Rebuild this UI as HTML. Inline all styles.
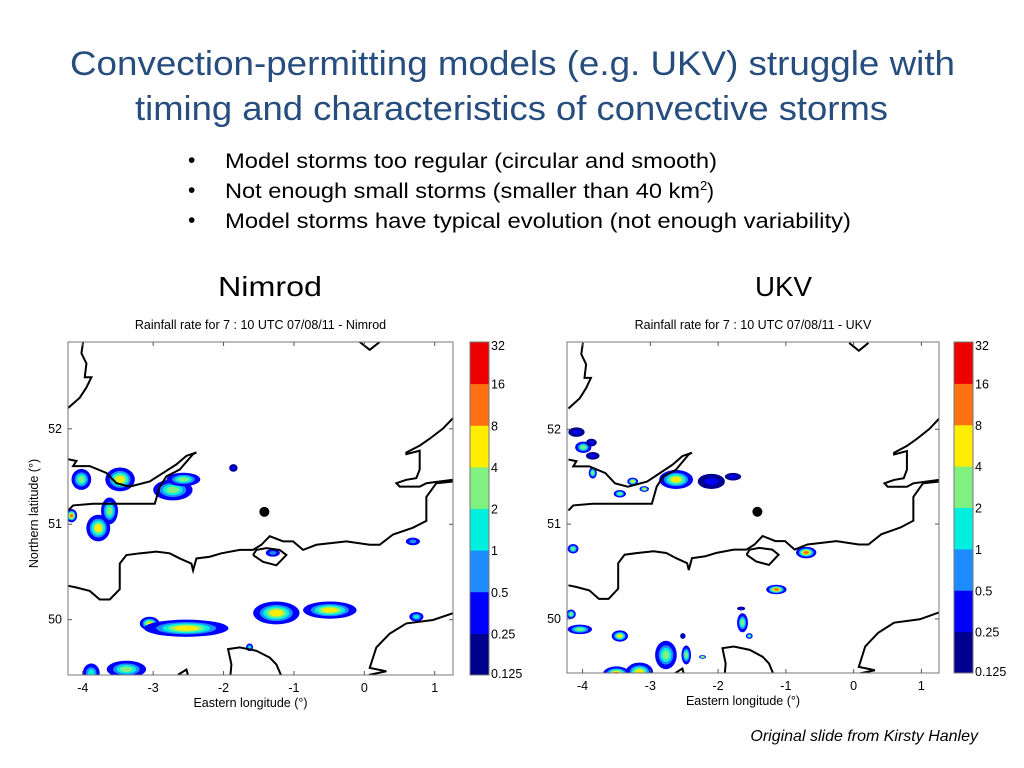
<!DOCTYPE html>
<html><head><meta charset="utf-8"><style>
html,body{margin:0;padding:0;background:#fff;width:1024px;height:768px;overflow:hidden}
svg{display:block}
text{font-family:"Liberation Sans",sans-serif}
</style></head><body>
<svg id="s" width="1024" height="768" viewBox="0 0 1024 768">
<g fill="#264d7e" font-size="34">
<text x="70" y="75" textLength="885" lengthAdjust="spacingAndGlyphs">Convection-permitting models (e.g. UKV) struggle with</text>
<text x="135" y="120" textLength="753" lengthAdjust="spacingAndGlyphs">timing and characteristics of convective storms</text>
</g>
<g fill="#000" font-size="21">
<text x="188" y="167">•</text><text x="225" y="168" textLength="492" lengthAdjust="spacingAndGlyphs">Model storms too regular (circular and smooth)</text>
<text x="188" y="197">•</text><text x="225" y="198" textLength="475" lengthAdjust="spacingAndGlyphs">Not enough small storms (smaller than 40 km</text><text x="700" y="190" font-size="13">2</text><text x="707" y="198">)</text>
<text x="188" y="227">•</text><text x="225" y="228" textLength="626" lengthAdjust="spacingAndGlyphs">Model storms have typical evolution (not enough variability)</text>
</g>
<text x="218" y="296" font-size="28" textLength="104" lengthAdjust="spacingAndGlyphs">Nimrod</text>
<text x="755" y="296" font-size="28" textLength="57" lengthAdjust="spacingAndGlyphs">UKV</text>
<text x="978" y="741" font-size="16" font-style="italic" text-anchor="end">Original slide from Kirsty Hanley</text>
<g id="p1"></g><g id="p2"></g>
</svg>
<script>
const levelColors=["#00008f","#0000ff","#1e8cff","#00f0e0","#80f080","#ffee00","#ff7010","#ee0000"];
const cbLabels=["0.125","0.25","0.5","1","2","4","8","16","32"];
const lonTicks=[-4,-3,-2,-1,0,1];
const latTicks=[50,51,52];
// storms: lon, lat, rlon, rlat, level
const nimLon=[-3.47,-4.02,-3.78,-3.62,-4.16,-2.72,-2.57,-3.05,-2.53,-1.25,-0.49,0.74,-3.38,-3.88,-1.86,0.69,-1.30,-1.63];
const nimLat=[51.47,51.47,50.96,51.14,51.09,51.36,51.47,49.96,49.91,50.07,50.10,50.03,49.48,49.44,51.59,50.82,50.70,49.71];
const nimRx=[0.21,0.14,0.17,0.12,0.08,0.28,0.24,0.14,0.6,0.33,0.38,0.1,0.28,0.12,0.06,0.1,0.1,0.05];
const nimRy=[0.125,0.11,0.14,0.14,0.07,0.11,0.07,0.07,0.09,0.12,0.09,0.05,0.09,0.1,0.04,0.04,0.04,0.04];
const nimLev=[5,4,5,4,6,4,4,5,5,5,5,3,4,3,1,2,2,3];
const ukvLon=[-4.09,-3.99,-3.87,-3.85,-3.85,-3.26,-3.09,-3.45,-2.62,-2.10,-1.78,-4.14,-0.70,-1.14,-1.64,-1.66,-1.54,-4.04,-4.17,-3.45,-2.77,-3.16,-3.50,-2.47,-2.23,-2.52];
const ukvLat=[51.97,51.81,51.86,51.72,51.54,51.45,51.37,51.32,51.47,51.45,51.50,50.74,50.70,50.31,49.96,50.11,49.82,49.89,50.05,49.82,49.62,49.44,49.42,49.62,49.60,49.82];
const ukvRx=[0.12,0.12,0.08,0.1,0.06,0.08,0.07,0.09,0.25,0.2,0.12,0.08,0.15,0.15,0.08,0.06,0.05,0.18,0.07,0.12,0.16,0.2,0.2,0.07,0.05,0.04];
const ukvRy=[0.05,0.06,0.04,0.04,0.06,0.04,0.03,0.04,0.1,0.08,0.04,0.05,0.06,0.05,0.1,0.02,0.03,0.05,0.05,0.06,0.15,0.1,0.08,0.1,0.02,0.03];
const ukvLev=[1,4,1,1,4,5,5,4,5,1,1,4,6,6,4,1,4,4,4,5,4,5,6,4,5,1];
// coastlines (lon,lat pairs)
const zc=p=>p.map(([x,y])=>[x/211.2-4.611,53.258-y/279]);
const coasts=[
zc([[130,97],[125,130],[140,160],[135,200],[155,200],[140,230],[120,260],[85,290]]),
zc([[85,440],[110,445],[100,460],[150,460],[200,480],[230,510],[270,520],[330,505],[370,480],[410,455],[440,430],[470,420],[460,425],[420,470],[380,490],[360,520],[345,570],[250,570],[160,570],[100,575],[85,590]]),
zc([[85,810],[110,815],[150,825],[180,850],[210,850],[240,820],[240,745],[260,720],[300,715],[350,710],[390,715],[420,730],[455,745],[460,765],[470,730],[510,725],[545,715],[600,705],[640,705],[665,690],[690,665],[730,680],[760,680],[790,705],[830,690],[920,680],[990,690],[1020,690],[1060,660],[1120,640],[1160,620],[1160,550],[1190,510],[1240,505]]),
zc([[640,720],[670,740],[710,750],[740,720],[720,705],[680,700],[650,705],[640,720]]),
zc([[1240,320],[1210,350],[1170,380],[1140,400],[1100,420],[1100,425],[1140,415],[1140,470],[1130,495],[1100,500],[1070,510],[1080,520],[1140,520],[1160,510],[1240,500]]),
zc([[960,97],[990,120],[1020,97]]),
zc([[1240,890],[1180,910],[1100,920],[1050,950],[1010,990],[990,1050],[1040,1060],[990,1070],[980,1095]]),
zc([[570,1095],[575,1040],[565,995],[600,990],[650,1000],[690,1020],[710,1040],[730,1085],[760,1090],[860,1095]]),
zc([[415,1070],[440,1055],[445,1072],[415,1072]])];
const NS="http://www.w3.org/2000/svg";
function mk(par,tag,at,txt){const e=document.createElementNS(NS,tag);for(const k in at)e.setAttribute(k,at[k]);if(txt!=null)e.textContent=txt;par.appendChild(e);return e;}
function panel(g,cfg,lon,lat,rx,ry,lev){
 const X=v=>cfg.x0+(v-cfg.lonMin)/(cfg.lonMax-cfg.lonMin)*(cfg.x1-cfg.x0);
 const Y=v=>cfg.y0+(cfg.latMax-v)/(cfg.latMax-cfg.latMin)*(cfg.y1-cfg.y0);
 const t=mk(g,"text",{x:(cfg.x0+cfg.x1)/2,y:329,"font-size":12.5,"text-anchor":"middle"},cfg.title);
 
 
 mk(g,"clipPath",{id:cfg.id+"c"}).appendChild(document.createElementNS(NS,"rect"));
 const cr=g.lastChild.firstChild;cr.setAttribute("x",cfg.x0);cr.setAttribute("y",cfg.y0);cr.setAttribute("width",cfg.x1-cfg.x0);cr.setAttribute("height",cfg.y1-cfg.y0);
 const inner=mk(g,"g",{"clip-path":`url(#${cfg.id}c)`});
 
 
 for(let i=0;i<lon.length;i++){
  const start=lev[i]<=1?0:1;
  for(let L=start;L<=lev[i];L++){
   const k=(L-start)/(lev[i]-start+1);
   const f=L==start?1:(0.85-k*0.7);
   const e=mk(inner,"ellipse",{cx:X(lon[i]),cy:Y(lat[i]),rx:Math.abs(X(lon[i]+rx[i])-X(lon[i]))*f,ry:Math.abs(Y(lat[i]+ry[i])-Y(lat[i]))*f,fill:levelColors[L]});
   
   
  }
 }
 coasts.forEach(c=>{const p=mk(inner,"polyline",{points:c.map(([a,b])=>X(a)+","+Y(b)).join(" "),fill:"none",stroke:"#000","stroke-width":2});
  
  });
 const dot=mk(g,"circle",{cx:X(-1.42),cy:Y(51.13),r:5,fill:"#000"});
 
 
 const fr=mk(g,"rect",{x:cfg.x0,y:cfg.y0,width:cfg.x1-cfg.x0,height:cfg.y1-cfg.y0,fill:"none",stroke:"#777","stroke-width":1});
 
 
 lonTicks.forEach(v=>{mk(g,"line",{x1:X(v),x2:X(v),y1:cfg.y1,y2:cfg.y1-4,stroke:"#555"});mk(g,"line",{x1:X(v),x2:X(v),y1:cfg.y0,y2:cfg.y0+4,stroke:"#555"});
  const l=mk(g,"text",{x:X(v),y:cfg.y1+17,"font-size":12.5,"text-anchor":"middle"},String(v));
  
  });
 latTicks.forEach(v=>{mk(g,"line",{x1:cfg.x0,x2:cfg.x0+4,y1:Y(v),y2:Y(v),stroke:"#555"});mk(g,"line",{x1:cfg.x1,x2:cfg.x1-4,y1:Y(v),y2:Y(v),stroke:"#555"});
  const l=mk(g,"text",{x:cfg.x0-6,y:Y(v)+4,"font-size":12.5,"text-anchor":"end"},String(v));
  
  });
 const xt=mk(g,"text",{x:(cfg.x0+cfg.x1)/2-10,y:cfg.y1+32,"font-size":12.5,"text-anchor":"middle"},"Eastern longitude (°)");
 
 
 if(cfg.ytitle){const yt=mk(g,"text",{x:0,y:0,"font-size":12.5,"text-anchor":"middle",transform:`translate(38,${(cfg.y0+cfg.y1)/2+5}) rotate(-90)`},"Northern latitude (°)");
  
  }
 const n=levelColors.length,h=(cfg.y1-cfg.y0)/n;
 levelColors.forEach((c,i)=>{const r=mk(g,"rect",{x:cfg.cb,y:cfg.y1-(i+1)*h,width:19,height:h+0.5,fill:c});
  
  });
 mk(g,"rect",{x:cfg.cb,y:cfg.y0,width:19,height:cfg.y1-cfg.y0,fill:"none",stroke:"#777"});
 cbLabels.forEach((s,i)=>{const l=mk(g,"text",{x:cfg.cb+21,y:cfg.y1-i*h+(i==0?3:i==n?8:5),"font-size":12.5},s);
  
  });
}
const p1=document.getElementById("p1");


const p2=document.getElementById("p2");


panel(p1,{id:"a",x0:68,x1:453,y0:342,y1:675,lonMin:-4.21,lonMax:1.26,latMin:49.42,latMax:52.91,cb:470,ytitle:true,title:"Rainfall rate for 7 : 10 UTC 07/08/11 - Nimrod"},nimLon,nimLat,nimRx,nimRy,nimLev);
panel(p2,{id:"b",x0:567,x1:939,y0:342,y1:673,lonMin:-4.23,lonMax:1.26,latMin:49.43,latMax:52.92,cb:954,ytitle:false,title:"Rainfall rate for 7 : 10 UTC 07/08/11 - UKV"},ukvLon,ukvLat,ukvRx,ukvRy,ukvLev);
</script>
</body></html>
